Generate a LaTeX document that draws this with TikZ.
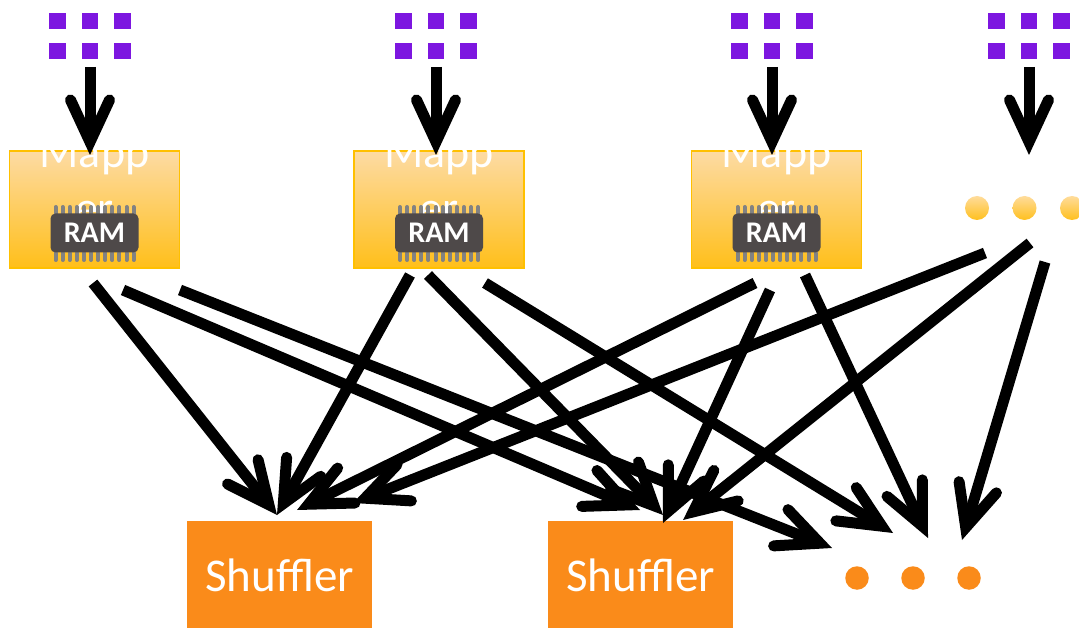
\documentclass[tikz,border=0pt]{standalone}
\usepackage{fontspec}
\setmainfont{Carlito}
\usetikzlibrary{arrows.meta}
\definecolor{purp}{RGB}{125,22,224}
\definecolor{maptop}{RGB}{253,219,164}
\definecolor{mapbot}{RGB}{255,191,26}
\definecolor{mapline}{RGB}{255,192,0}
\definecolor{chipc}{RGB}{78,73,73}
\definecolor{pinc}{RGB}{130,130,130}
\definecolor{shuf}{RGB}{250,139,26}
\definecolor{ydtop}{RGB}{255,220,155}
\definecolor{ydbot}{RGB}{255,192,30}
\begin{document}
\begin{tikzpicture}[x=1pt,y=-1pt,
  sq/.style={fill=purp, minimum size=16.5pt, inner sep=0pt, outer sep=0pt},
  mapper/.style={draw=mapline, line width=1.5pt, top color=maptop, bottom color=mapbot, minimum width=170pt, minimum height=117pt, inner sep=0pt},
  maptext/.style={text=white, font=\fontsize{46}{56}\selectfont, align=center, inner sep=0pt, anchor=base},
  chip/.style={fill=chipc, rounded corners=5pt, minimum width=88pt, minimum height=39pt, inner sep=0pt, text=white, font=\fontsize{30}{30}\selectfont\bfseries},
  pin/.style={draw=pinc, line width=4pt, line cap=round},
  shuffler/.style={fill=shuf, minimum width=185pt, minimum height=108pt, inner sep=0pt, text=white, font=\fontsize{47}{47}\selectfont},
  odot/.style={circle, fill=shuf, minimum size=23.5pt, inner sep=0pt},
  ydot/.style={circle, top color=ydtop, bottom color=ydbot, minimum size=24pt, inner sep=0pt},
  arr/.style={line width=11pt, -{Straight Barb[length=42pt,width=39pt,line cap=round,line join=miter]}},
]
\useasboundingbox (0,0) rectangle (1079,628);

% input grids
\foreach \g/\cx in {1/90,2/436,3/772,4/1029}{
  \foreach \i/\dx in {1/-32.5,2/0,3/32.5}{
    \node[sq] (g\g r1c\i) at (\cx+\dx,21) {};
    \node[sq] (g\g r2c\i) at (\cx+\dx,51) {};
  }
  \coordinate (in\g) at (\cx,67);
  \coordinate (tip\g) at (\cx,155);
}

% mappers
\foreach \m/\cx in {1/94.5,2/439,3/776.5}{
  \node[mapper] (mapper\m) at (\cx,209.5) {};
  \node[maptext] (mt\m) at (\cx,224) {Mapp\\er};
  \foreach \k in {0,...,11}{
    \draw[pin] (\cx-39+\k*7.1,207) -- (\cx-39+\k*7.1,214);
    \draw[pin] (\cx-39+\k*7.1,253) -- (\cx-39+\k*7.1,260);
  }
  \node[chip] (ram\m) at (\cx,233) {RAM};
}

% top-right ellipsis
\node[ydot] (yd1) at (977,208) {};
\node[ydot] (yd2) at (1024.5,208) {};
\node[ydot] (yd3) at (1072,208) {};

% shufflers
\node[shuffler] (sh1) at (279.5,575) {Shuffler};
\node[shuffler] (sh2) at (640.5,575) {Shuffler};
\node[odot] (od1) at (857,578) {};
\node[odot] (od2) at (913,578) {};
\node[odot] (od3) at (969,578) {};

% vertical input arrows
\foreach \g in {1,...,4}{ \draw[arr] (in\g) -- (tip\g); }

% connector end points
\coordinate (m1a) at (93,283);   \coordinate (m1b) at (123,290);  \coordinate (m1c) at (180,290);
\coordinate (m2a) at (410,275);  \coordinate (m2b) at (428,275);  \coordinate (m2c) at (485,283);
\coordinate (m3a) at (755,283);  \coordinate (m3b) at (770,290);  \coordinate (m3c) at (805,275);
\coordinate (d4a) at (985,253);  \coordinate (d4b) at (1030,243); \coordinate (d4c) at (1045,262);

\coordinate (s1t1) at (277,515); \coordinate (s1t2) at (297,510); \coordinate (s1t3) at (353,503);
\coordinate (s2t1) at (640,510); \coordinate (s2t2) at (663,515); \coordinate (s2t3) at (663,523); \coordinate (s2t4) at (683,520);
\coordinate (e1) at (832,548); \coordinate (e2) at (893,533); \coordinate (e3) at (928,538); \coordinate (e4) at (962,540);

\draw[arr] (m1a) -- (s1t1);
\draw[arr] (m1b) -- (s2t1);
\draw[arr] (m1c) -- (e1);
\draw[arr] (m2a) -- (s1t1);
\draw[arr] (m2b) -- (s2t2);
\draw[arr] (m2c) -- (e2);
\draw[arr] (m3a) -- (s1t2);
\draw[arr] (m3b) -- (s2t3);
\draw[arr] (m3c) -- (e3);
\draw[arr] (d4a) -- (s1t3);
\draw[arr] (d4b) -- (s2t4);
\draw[arr] (d4c) -- (e4);
\end{tikzpicture}
\end{document}
